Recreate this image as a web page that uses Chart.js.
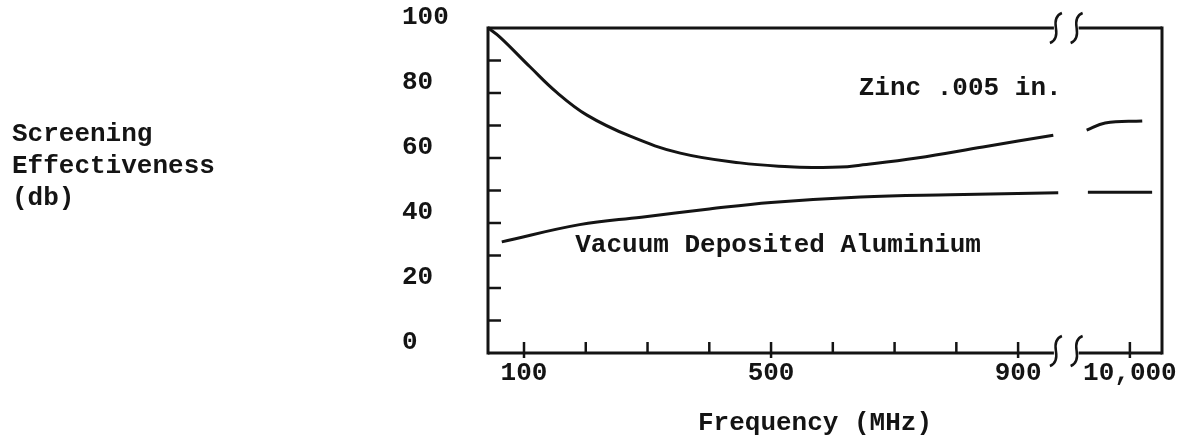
<!DOCTYPE html>
<html><head><meta charset="utf-8">
<script src="https://cdn.jsdelivr.net/npm/chart.js@4.4.1/dist/chart.umd.min.js"></script>
<style>html,body{margin:0;padding:0;background:#fff;}#wrap{width:1196px;height:443px;position:relative;}</style>
</head><body><div id="wrap"><canvas id="c" width="1196" height="443"></canvas></div>
<script>
// ---- data (frequency in MHz, screening effectiveness in dB) ----
const zincFreqLow  = [42, 61, 110, 153, 202, 272, 353, 450, 530, 570, 612, 644, 736, 843, 957];
const zincDbLow    = [100, 97.2, 88, 80.2, 73.2, 66.7, 61.5, 58.5, 57.3, 57.1, 57.2, 57.8, 60, 63.4, 67];
const zincFreqHigh = [9300, 9600, 10200];
const zincDbHigh   = [68.6, 70.8, 71.4];
const aluFreqLow   = [64, 190, 290, 400, 500, 645, 790, 965];
const aluDbLow     = [34.2, 39.5, 41.8, 44.3, 46.3, 48, 48.7, 49.3];
const aluFreqHigh  = [9320, 10360];
const aluDbHigh    = [49.5, 49.5];
const xTickFreqs   = [100, 200, 300, 400, 500, 600, 700, 800, 900, 10000];
const xTickLabels  = ['100', '', '', '', '500', '', '', '', '900', '10,000'];
const yTickValues  = [0, 10, 20, 30, 40, 50, 60, 70, 80, 90, 100];
const yTickLabels  = ['0', '', '20', '', '40', '', '60', '', '80', '', '100'];
const seriesNames  = ['Zinc .005 in.', 'Vacuum Deposited Aluminium'];
const yTitleLines  = ['Screening', 'Effectiveness', '(db)'];
const xTitleText   = 'Frequency (MHz)';

// broken axis: linear 0..1000 MHz, then a short segment around 10,000 MHz
const BREAK_POS = 10.81;
function toAxis(f) { return f <= 1000 ? f / 100 : BREAK_POS + (f - 10000) / 1000; }
const pts = (fs, ds) => fs.map((f, i) => ({x: toAxis(f), y: ds[i]}));

const FONT = '"Liberation Mono", "DejaVu Sans Mono", monospace';
const FSIZE = 26;
const INK = '#141414';

const framePlugin = {
  id: 'frame',
  afterDraw(chart) {
    const {ctx, chartArea: a, scales: {x, y}} = chart;
    ctx.save();
    ctx.strokeStyle = INK; ctx.lineWidth = 3; ctx.lineCap = 'butt';
    const b1 = x.getPixelForValue(9.58), b2 = x.getPixelForValue(9.98);
    const seg = (x1, y1, x2, y2) => { ctx.beginPath(); ctx.moveTo(x1, y1); ctx.lineTo(x2, y2); ctx.stroke(); };
    seg(a.left, a.top - 1.5, a.left, a.bottom + 1.5);
    seg(a.right, a.top - 1.5, a.right, a.bottom + 1.5);
    seg(a.left, a.top, b1, a.top); seg(b2, a.top, a.right, a.top);
    seg(a.left, a.bottom, b1, a.bottom); seg(b2, a.bottom, a.right, a.bottom);
    const curl = (cx, cy) => {
      ctx.beginPath();
      ctx.moveTo(cx + 6, cy - 15);
      ctx.quadraticCurveTo(cx - 2, cy - 12, cx, cy);
      ctx.quadraticCurveTo(cx + 2, cy + 12, cx - 6, cy + 15);
      ctx.stroke();
    };
    ctx.lineWidth = 2.5;
    curl(b1 + 2, a.top); curl(b2 - 2, a.top);
    curl(b1 + 2, a.bottom - 2); curl(b2 - 2, a.bottom - 2);
    // ticks (pointing into the plot)
    yTickValues.forEach(v => {
      if (v === 0 || v === 100) return;
      const py = y.getPixelForValue(v);
      seg(a.left, py, a.left + 13, py);
    });
    xTickFreqs.forEach((f, i) => {
      const px = x.getPixelForValue(toAxis(f));
      seg(px, a.bottom + (xTickLabels[i] ? 5 : 0), px, a.bottom - 11);
    });
    // texts
    ctx.fillStyle = INK;
    ctx.font = 'bold ' + FSIZE + 'px ' + FONT;
    ctx.textBaseline = 'middle';
    ctx.textAlign = 'left';
    ctx.fillText(seriesNames[0], x.getPixelForValue(toAxis(642)), y.getPixelForValue(81.5));
    ctx.fillText(seriesNames[1], x.getPixelForValue(toAxis(183)), y.getPixelForValue(33));
    const tl = [134, 166, 198];
    yTitleLines.forEach((t, i) => ctx.fillText(t, 12, tl[i]));
    ctx.textAlign = 'center';
    ctx.fillText(xTitleText, (a.left + a.right) / 2 - 10, 423);
    ctx.restore();
  }
};

const lineStyle = {borderColor: INK, borderWidth: 3, pointRadius: 0, fill: false, tension: 0.4, cubicInterpolationMode: 'default'};

new Chart(document.getElementById('c'), {
  type: 'line',
  data: {
    datasets: [
      Object.assign({label: seriesNames[0], data: pts(zincFreqLow, zincDbLow)}, lineStyle),
      Object.assign({label: seriesNames[0], data: pts(zincFreqHigh, zincDbHigh)}, lineStyle),
      Object.assign({label: seriesNames[1], data: pts(aluFreqLow, aluDbLow)}, lineStyle),
      Object.assign({label: seriesNames[1], data: pts(aluFreqHigh, aluDbHigh)}, lineStyle)
    ]
  },
  options: {
    responsive: false, animation: false, devicePixelRatio: 1,
    layout: {padding: {left: 402, right: 34, top: 28, bottom: 0}},
    plugins: {legend: {display: false}, tooltip: {enabled: false}},
    scales: {
      x: {
        type: 'linear', min: 0.417, max: 11.33,
        afterFit(s) { s.height = 90; },
        afterBuildTicks(s) { s.ticks = xTickFreqs.map(f => ({value: toAxis(f)})); },
        grid: {display: false, drawTicks: false},
        border: {display: false},
        ticks: {
          autoSkip: false, maxRotation: 0, padding: 5, color: INK,
          font: {family: FONT, size: FSIZE, weight: 'bold'},
          callback(v, i) { return xTickLabels[i]; }
        }
      },
      y: {
        type: 'linear', min: 0, max: 100,
        afterFit(s) { s.width = 86; },
        afterBuildTicks(s) { s.ticks = yTickValues.map(v => ({value: v})); },
        grid: {display: false, drawTicks: false},
        border: {display: false},
        ticks: {
          autoSkip: false, crossAlign: 'far', labelOffset: -11, color: INK,
          font: {family: FONT, size: FSIZE, weight: 'bold'},
          callback(v, i) { return yTickLabels[i]; }
        }
      }
    }
  },
  plugins: [framePlugin]
});
</script></body></html>
